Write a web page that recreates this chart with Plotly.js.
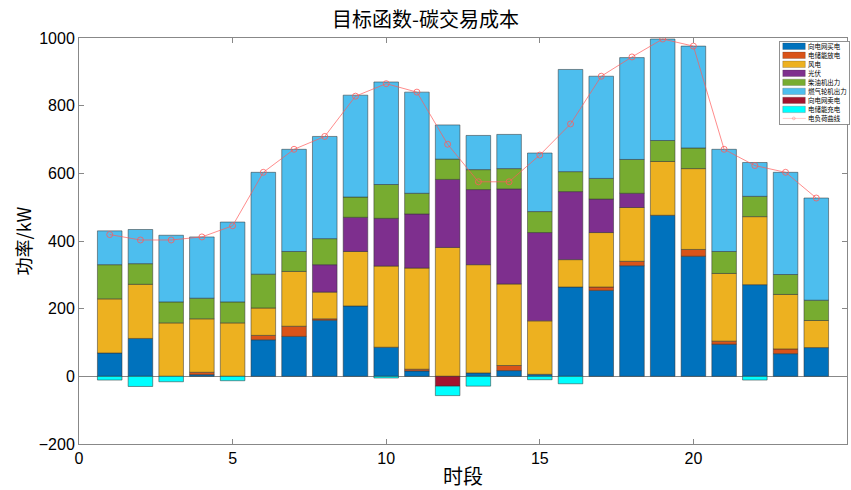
<!DOCTYPE html>
<html>
<head>
<meta charset="utf-8">
<script src="https://cdn.plot.ly/plotly-3.0.1.min.js"></script>
<style>html,body{margin:0;padding:0;background:#fff;}#chart{width:851px;height:490px;}</style>
</head>
<body>
<div id="chart"></div>
<script>
var hours = [1,2,3,4,5,6,7,8,9,10,11,12,13,14,15,16,17,18,19,20,21,22,23,24];
var buyGrid      = [69,112,null,5,null,108,118,166,208,86,16,null,10,17,6,264,254,327,476,355,95,271,67,85];
var essDischarge = [null,null,null,7,null,13,30,4,null,null,5,null,null,15,null,null,10,13,null,20,9,null,14,null];
var wind         = [160,160,158,158,158,81,162,79,161,240,299,381,320,241,158,81,161,159,159,239,200,201,161,80];
var pv           = [null,null,null,null,null,null,null,81,101,141,160,201,222,281,261,201,99,42,null,null,null,null,null,null];
var diesel       = [101,61,62,61,62,100,59,77,60,100,61,60,59,60,62,59,61,100,62,61,65,60,59,60];
var gasTurbine   = [100,101,197,181,236,301,302,302,301,303,299,101,101,101,173,302,302,301,300,301,302,100,302,302];
var sellGrid     = [null,null,null,null,null,null,null,null,null,null,null,-29,null,null,null,null,null,null,null,null,null,null,null,null];
var essCharge    = [-11,-30,-16,null,-13,null,null,null,null,-5,null,-28,-29,null,-10,-22,null,null,null,null,null,-11,null,null];
var load         = [419,403,403,412,445,603,671,709,828,865,840,686,575,575,654,746,887,944,997,976,671,623,603,527];

var names = ['向电网买电','电储能放电','风电','光伏','柴油机出力','燃气轮机出力','向电网卖电','电储能充电'];
var series = [buyGrid, essDischarge, wind, pv, diesel, gasTurbine, sellGrid, essCharge];
var colors = ['#0072BD','#D95319','#EDB120','#7E2F8E','#77AC30','#4DBEEE','#A2142F','#00FFFF'];

var traces = series.map(function(s,i){
  return {type:'bar', x:hours, y:s, name:names[i], width:0.8,
    marker:{color:colors[i], line:{color:'rgba(50,50,50,0.65)', width:0.8}}};
});
traces.push({type:'scatter', mode:'lines+markers', x:hours, y:load, name:'电负荷曲线',
  line:{color:'#FF5A5A', width:0.7},
  marker:{symbol:'circle-open', size:6, color:'#FF5A5A', line:{width:0.8}}});

var tickFont = {family:'Liberation Sans, Arial, sans-serif', size:16, color:'#000'};
var layout = {
  width:851, height:490,
  margin:{l:79, r:4, t:38, b:46},
  paper_bgcolor:'#fff', plot_bgcolor:'#fff',
  barmode:'relative', bargap:0.2,
  title:{text:'目标函数-碳交易成本', x:0.5, xanchor:'center', y:1-20/490, yanchor:'middle',
    font:{family:'Noto Sans CJK SC, sans-serif', size:20, color:'#000'}},
  xaxis:{range:[0,25], tickvals:[0,5,10,15,20,25], ticks:'inside', ticklen:5, tickcolor:'#888',
    showline:true, linecolor:'#888', linewidth:1, mirror:'ticks', showgrid:false, zeroline:false,
    tickfont:tickFont,
    title:{text:'时段', font:{family:'Noto Sans CJK SC, sans-serif', size:20, color:'#000'}, standoff:4}},
  yaxis:{range:[-200,1000], tickvals:[-200,0,200,400,600,800,1000], ticks:'inside', ticklen:5, tickcolor:'#888',
    showline:true, linecolor:'#888', linewidth:1, mirror:'ticks', showgrid:false,
    zeroline:true, zerolinecolor:'#888', zerolinewidth:1,
    tickfont:tickFont,
    title:{text:'功率/kW', font:{family:'Noto Sans CJK SC, sans-serif', size:18, color:'#000'}, standoff:2}},
  showlegend:true,
  legend:{x:1, xanchor:'right', y:1, yanchor:'top', bgcolor:'#fff', bordercolor:'#888', borderwidth:2,
    font:{family:'Noto Sans CJK SC, sans-serif', size:14, color:'#000'}, traceorder:'normal', itemwidth:50}
};

Plotly.newPlot('chart', traces, layout, {displayModeBar:false, staticPlot:true}).then(function(gd){
  var lg = gd.querySelector('g.legend');
  if(!lg) return;
  var s = 0.46, step = 19.6, y0 = 11.5;
  var items = lg.querySelectorAll('g.traces');
  for(var i=0;i<items.length;i++){
    var it = items[i];
    var tr = it.getAttribute('transform') || '';
    var m = tr.match(/translate\(([-\d.]+)[ ,]+([-\d.]+)\)/);
    var tx = m ? parseFloat(m[1]) : 0;
    it.setAttribute('transform','translate('+tx+','+(y0+i*step)+')');
    var paths = it.querySelectorAll('g.legendpoints path');
    if(i < items.length-1){
      for(var k=0;k<paths.length;k++){
        paths[k].setAttribute('d','M5,-7H54V7H5Z');
        paths[k].setAttribute('transform','');
      }
    } else {
      for(var k=0;k<paths.length;k++){
        var p = paths[k];
        if(p.classList.contains('js-line')){ p.setAttribute('d','M5,0h49'); }
        else { p.setAttribute('transform','translate(29,0)'); }
      }
    }
  }
  var bg = lg.querySelector('rect.bg');
  var H = y0*2 + (items.length-1)*step;
  if(bg){ bg.setAttribute('height', H); }
  var W = bg ? parseFloat(bg.getAttribute('width')) : 170;
  lg.setAttribute('transform','translate('+(849 - W*s)+',41) scale('+s+')');
});
</script>
</body>
</html>
